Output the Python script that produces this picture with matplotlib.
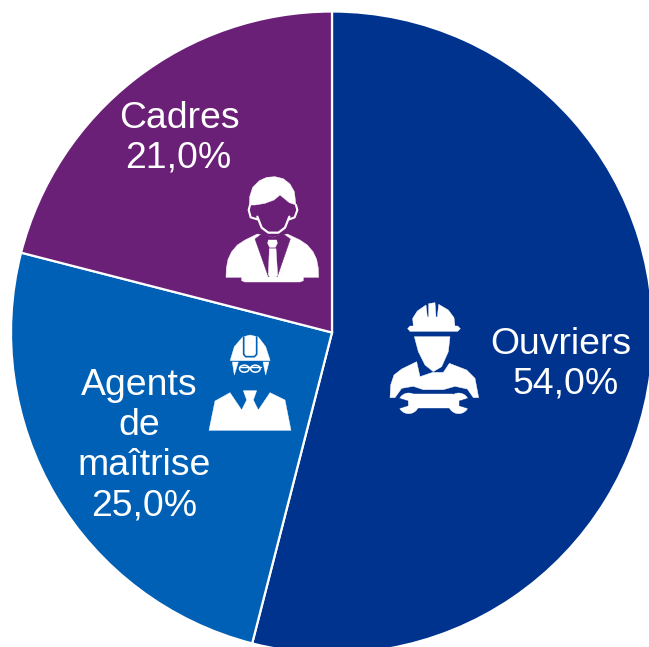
import numpy as np
import matplotlib
matplotlib.use("Agg")
import matplotlib.pyplot as plt
from matplotlib.patches import Polygon, Circle, Ellipse

# ---- data ----
categories = ["Ouvriers", "Agents de maîtrise", "Cadres"]
values = [54.0, 25.0, 21.0]
colors = ["#00338D", "#0060B5", "#6B2077"]
label_lines = [["Ouvriers"], ["Agents", "de", "maîtrise"], ["Cadres"]]
# (x centre, baseline y) in pixels for each text line, percentage last
label_pos = [[(561, 354), (566, 394)],
             [(139, 395), (139, 435), (144, 475), (144, 516)],
             [(179, 128), (178.5, 167)]]

W, H = 649, 647
plt.rcParams["font.family"] = ["Liberation Sans", "DejaVu Sans"]
fig = plt.figure(figsize=(W / 100, H / 100), dpi=100, facecolor="white")
ax = fig.add_axes([0, 0, 1, 1])
ax.pie(values, colors=colors, startangle=90, counterclock=False,
       center=(332, -332.5), radius=321,
       wedgeprops=dict(edgecolor="white", linewidth=1.6))
ax.set_xlim(0, W)
ax.set_ylim(-H, 0)
ax.set_aspect("equal")
ax.axis("off")

for lines, val, pos in zip(label_lines, values, label_pos):
    pct = f"{val:.1f}%".replace(".", ",")
    for line, (x, y) in zip(lines + [pct], pos):
        ax.text(x, -y, line, color="white", fontsize=26.9, ha="center", va="baseline", zorder=5)


class Icon:
    """Draw decoration given in 3x zoom coordinates of the picture."""
    def __init__(self, x0, y0):
        self.x0, self.y0 = x0, y0

    def xy(self, pts):
        p = np.asarray(pts, float)
        return np.c_[self.x0 + p[:, 0] / 3, -(self.y0 + p[:, 1] / 3)]

    def poly(self, pts, color="white", z=6, lw=0.3):
        ax.add_patch(Polygon(self.xy(pts), closed=True, fc=color, ec=color, lw=lw, zorder=z))

    def line(self, pts, color="white", lw=1.5, z=7):
        q = self.xy(pts)
        ax.plot(q[:, 0], q[:, 1], color=color, lw=lw, zorder=z, solid_capstyle="round")


PURPLE, BLUE, NAVY = colors[2], colors[1], colors[0]

# ---- Cadres icon ----
c = Icon(200, 160)
c.poly([(78, 352), (79, 325), (84, 298), (95, 275), (112, 255), (135, 240), (172, 222), (218, 232), (262, 222),
        (300, 240), (322, 255), (339, 275), (350, 298), (355, 325), (356, 352)])
c.poly([(125, 350), (310, 350), (310, 362), (300, 366), (135, 366), (125, 362)])
c.poly([(165, 237), (205, 350), (232, 350), (271, 237), (250, 222), (218, 232), (185, 222)], color=PURPLE, z=7)
c.poly([(205, 240), (230, 240), (232, 250), (226, 262), (209, 262), (203, 250)], z=8)
c.poly([(208, 266), (228, 266), (233, 345), (219, 362), (205, 345)], z=8)
c.poly([(148, 135), (149, 110), (158, 82), (178, 62), (200, 52), (225, 50), (250, 56), (270, 72), (283, 95), (288, 135),
        (268, 128), (240, 105), (222, 120), (195, 130), (165, 135)], z=8)
c.poly([(172, 135), (195, 130), (222, 120), (240, 105), (268, 128), (268, 170), (255, 200),
        (235, 215), (205, 215), (185, 200), (172, 170)], color=PURPLE, z=7)
c.line([(172, 170), (185, 203), (205, 218), (235, 218), (255, 203), (268, 170)], lw=1.6, z=8)
c.line([(150, 135), (146, 150), (152, 172), (172, 178)], lw=1.5, z=8)
c.line([(288, 135), (292, 150), (284, 172), (268, 178)], lw=1.5, z=8)

# ---- Agents icon ----
a = Icon(195, 325)
a.poly([(42, 316), (60, 228), (105, 203), (140, 255), (155, 225), (145, 197), (185, 197), (175, 225),
        (190, 255), (225, 203), (270, 225), (288, 316)])
a.poly([(106, 105), (118, 65), (143, 36), (165, 30), (190, 36), (212, 65), (225, 105), (225, 107), (106, 107)])
a.line([(146, 36), (146, 88), (152, 95), (178, 95), (185, 88), (185, 36)], color=BLUE, lw=1.2)
a.poly([(112, 111), (130, 111), (118, 150)])
a.poly([(204, 111), (222, 111), (212, 150)])
for cx in (148, 181):
    ax.add_patch(Ellipse((195 + cx / 3, -(325 + 131 / 3)), 9.5, 7, fc="none", ec="white", lw=1.1, zorder=7))
a.line([(132, 125), (198, 125)], lw=1.0)

# ---- Ouvriers icon ----
o = Icon(380, 295)
o.poly([(100, 94), (98, 70), (112, 48), (138, 30), (142, 66), (146, 66), (146, 26), (165, 23), (168, 66),
        (172, 66), (176, 28), (205, 45), (222, 68), (225, 94)])
o.poly([(90, 93), (233, 93), (241, 101), (233, 109), (90, 109), (83, 101)])
o.poly([(103, 125), (210, 125), (205, 170), (185, 215), (160, 230), (135, 210), (115, 170)])
o.poly([(30, 308), (32, 270), (42, 240), (65, 222), (110, 200), (120, 245), (158, 232), (190, 232),
        (208, 205), (260, 225), (285, 250), (296, 308), (280, 308), (262, 282), (225, 274),
        (190, 284), (130, 284), (100, 274), (65, 280), (45, 308)])
# wrench
o.poly([(100, 298), (220, 298), (220, 338), (100, 338)])
for cx, side in ((86, -1), (236, 1)):
    ax.add_patch(Circle((380 + cx / 3, -(295 + 325 / 3)), 31 / 3, fc="white", ec="white", lw=0.3, zorder=6))
    o.poly([(cx + side * 2, 318), (cx + side * 34, 308), (cx + side * 34, 342), (cx + side * 2, 332)],
           color=NAVY, z=7)

fig.savefig("out.png", dpi=100)
